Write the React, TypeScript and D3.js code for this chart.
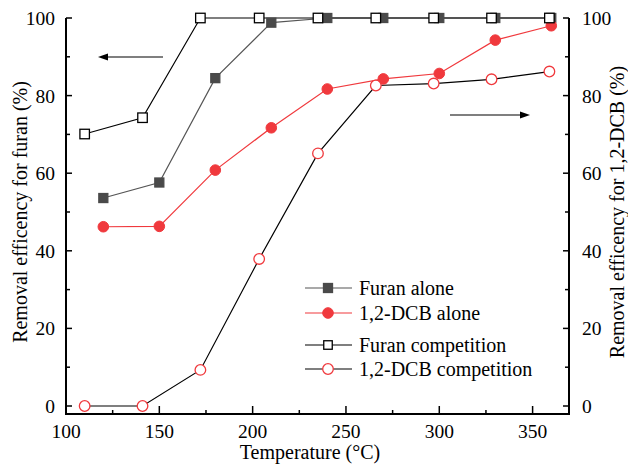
import React from "react";
import * as d3 from "d3";

const furanAloneX = [120, 150, 180, 210, 240, 270, 300, 330, 360];
const furanAloneY = [53.6, 57.6, 84.5, 98.8, 100, 100, 100, 100, 100];
const dcbAloneX = [120, 150, 180, 210, 240, 270, 300, 330, 360];
const dcbAloneY = [46.2, 46.3, 60.8, 71.7, 81.7, 84.3, 85.7, 94.3, 98.0];
const furanCompX = [110, 141, 172, 203.5, 235, 266, 297, 328, 359];
const furanCompY = [70.1, 74.3, 100, 100, 100, 100, 100, 100, 100];
const dcbCompX = [110, 141, 172, 203.5, 235, 266, 297, 328, 359];
const dcbCompY = [0, 0, 9.3, 37.9, 65.1, 82.6, 83.1, 84.2, 86.2];

const xTicks = [100, 150, 200, 250, 300, 350];
const xMinor = [125, 175, 225, 275, 325];
const yTicks = [0, 20, 40, 60, 80, 100];
const yMinor = [10, 30, 50, 70, 90];

const legendLabels = ["Furan alone", "1,2-DCB alone", "Furan competition", "1,2-DCB competition"];

const L = 66, R = 569, T = 18, B = 414;
const FONT = "'Liberation Serif', 'Times New Roman', serif";
const FS = 20;
const TFS = 19.5;

export default function App() {
  const x = d3.scaleLinear().domain([100, 369.5]).range([L, R]);
  const y = d3.scaleLinear().domain([0, 100]).range([406, 18]);
  const line = d3.line<[number, number]>().x(d => x(d[0])).y(d => y(d[1]));
  const pts = (xs: number[], ys: number[]) => xs.map((v, i) => [v, ys[i]] as [number, number]);

  const fa = pts(furanAloneX, furanAloneY);
  const da = pts(dcbAloneX, dcbAloneY);
  const fc = pts(furanCompX, furanCompY);
  const dc = pts(dcbCompX, dcbCompY);

  const red = "#f0393d";
  const dark = "#4a4a4a";

  const sq = (cx: number, cy: number, s: number, fill: string, stroke: string, key: any) => (
    <rect key={key} x={cx - s / 2} y={cy - s / 2} width={s} height={s} fill={fill} stroke={stroke} strokeWidth={1.3} />
  );

  const legendY = [288, 313, 345, 369];

  return (
    <svg width={628} height={469} style={{ position: "absolute", left: 0, top: 0 }} fontFamily={FONT}>
      <rect width={628} height={469} fill="white" />
      {/* series lines */}
      <path d={line(fa) || ""} fill="none" stroke="#555" strokeWidth={1.2} />
      <path d={line(da) || ""} fill="none" stroke={red} strokeWidth={1.2} />
      <path d={line(fc) || ""} fill="none" stroke="#000" strokeWidth={1.2} />
      <path d={line(dc) || ""} fill="none" stroke="#000" strokeWidth={1.2} />
      {/* markers */}
      {fa.map((p, i) => sq(x(p[0]), y(p[1]), 9, dark, dark, "fa" + i))}
      {da.map((p, i) => <circle key={"da" + i} cx={x(p[0])} cy={y(p[1])} r={5.3} fill={red} stroke={red} />)}
      {fc.map((p, i) => sq(x(p[0]), y(p[1]), 9.5, "white", "#000", "fc" + i))}
      {dc.map((p, i) => <circle key={"dc" + i} cx={x(p[0])} cy={y(p[1])} r={5.3} fill="white" stroke={red} strokeWidth={1.3} />)}

      {/* axes */}
      <line x1={L} x2={R} y1={B} y2={B} stroke="#000" strokeWidth={2} />
      <line x1={L} x2={L} y1={T} y2={B + 1} stroke="#000" strokeWidth={2} />
      <line x1={R} x2={R} y1={T} y2={B + 1} stroke="#000" strokeWidth={2} />
      {xTicks.map(t => (
        <g key={"xt" + t}>
          <line x1={x(t)} x2={x(t)} y1={B} y2={B - 8} stroke="#000" strokeWidth={1.5} />
          <text x={x(t)} y={B + 24} textAnchor="middle" fontSize={TFS}>{t}</text>
        </g>
      ))}
      {xMinor.map(t => <line key={"xm" + t} x1={x(t)} x2={x(t)} y1={B} y2={B - 4} stroke="#000" strokeWidth={1.5} />)}
      {yTicks.map(t => (
        <g key={"yt" + t}>
          <line x1={L} x2={L + 6} y1={y(t)} y2={y(t)} stroke="#000" strokeWidth={1.5} />
          <line x1={R} x2={R - 6} y1={y(t)} y2={y(t)} stroke="#000" strokeWidth={1.5} />
          <text x={L - 11} y={y(t) + 7} textAnchor="end" fontSize={TFS}>{t}</text>
          <text x={R + 13} y={y(t) + 7} textAnchor="start" fontSize={TFS}>{t}</text>
        </g>
      ))}
      {yMinor.map(t => (
        <g key={"ym" + t}>
          <line x1={L} x2={L + 4} y1={y(t)} y2={y(t)} stroke="#000" strokeWidth={1.5} />
          <line x1={R} x2={R - 4} y1={y(t)} y2={y(t)} stroke="#000" strokeWidth={1.5} />
        </g>
      ))}

      {/* axis titles */}
      <text x={310} y={459} textAnchor="middle" fontSize={FS}>Temperature (°C)</text>
      <text transform={`translate(27,${(T + 406) / 2}) rotate(-90)`} textAnchor="middle" fontSize={FS}>Removal efficency for furan (%)</text>
      <text transform={`translate(624,${(T + 406) / 2}) rotate(-90)`} textAnchor="middle" fontSize={FS}>Removal efficency for 1,2-DCB (%)</text>

      {/* arrows */}
      <line x1={163} x2={105} y1={57} y2={57} stroke="#000" strokeWidth={1.2} />
      <path d="M98,57 L108,53.5 L108,60.5 Z" fill="#000" />
      <line x1={450} x2={522} y1={115} y2={115} stroke="#000" strokeWidth={1.2} />
      <path d="M530,115 L520,111.5 L520,118.5 Z" fill="#000" />

      {/* legend */}
      {legendLabels.map((lab, i) => {
        const ly = legendY[i];
        const stroke = i === 1 ? red : i === 0 ? "#555" : "#000";
        return (
          <g key={"lg" + i}>
            <line x1={305} x2={352} y1={ly} y2={ly} stroke={stroke} strokeWidth={1.2} />
            {i === 0 && sq(328, ly, 9, dark, dark, "l0")}
            {i === 1 && <circle cx={328} cy={ly} r={5.3} fill={red} stroke={red} />}
            {i === 2 && sq(328, ly, 8.5, "white", "#000", "l2")}
            {i === 3 && <circle cx={328} cy={ly} r={5.3} fill="white" stroke={red} strokeWidth={1.3} />}
            <text x={359} y={ly + 7} fontSize={FS}>{lab}</text>
          </g>
        );
      })}
    </svg>
  );
}
